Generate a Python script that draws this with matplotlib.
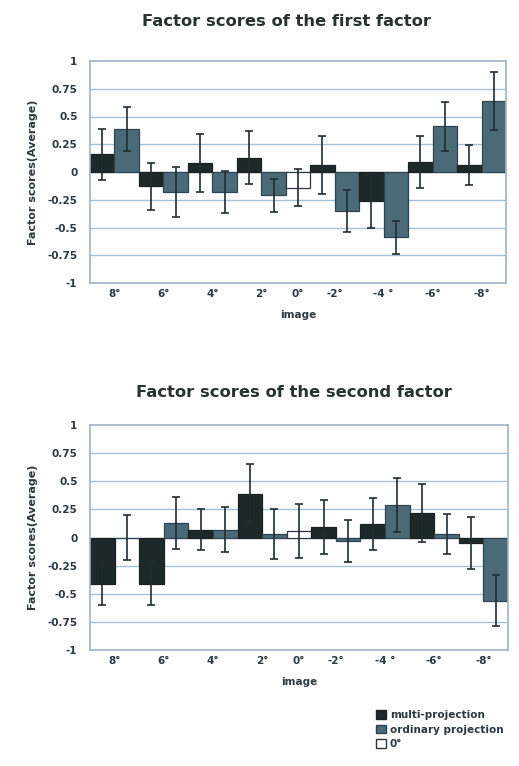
import matplotlib
matplotlib.use("Agg")
import matplotlib.pyplot as plt
from matplotlib.patches import Patch
import numpy as np

plt.rcParams['font.family'] = ['DejaVu Sans']

tick_labels = ["8°", "6°", "4°", "2°", "0°", "-2°", "-4 °", "-6°", "-8°"]
bar_kind = ["multi", "ordinary"] * 4 + ["zero"] + ["multi", "ordinary"] * 4
first_vals = [0.16, 0.39, -0.13, -0.18, 0.08, -0.18, 0.13, -0.21, -0.14,
              0.06, -0.35, -0.26, -0.59, 0.09, 0.41, 0.06, 0.64]
first_err = [0.23, 0.20, 0.21, 0.225, 0.26, 0.19, 0.24, 0.15, 0.17,
             0.26, 0.19, 0.24, 0.145, 0.23, 0.22, 0.18, 0.26]
second_vals = [-0.41, 0.0, -0.41, 0.13, 0.07, 0.07, 0.39, 0.03, 0.06,
               0.09, -0.03, 0.12, 0.29, 0.22, 0.03, -0.05, -0.56]
second_err = [0.19, 0.20, 0.19, 0.23, 0.18, 0.20, 0.26, 0.22, 0.24,
              0.24, 0.19, 0.23, 0.24, 0.26, 0.18, 0.23, 0.23]
y_ticks = [1, 0.75, 0.5, 0.25, 0, -0.25, -0.5, -0.75, -1]
y_tick_labels = ["1", "0.75", "0.5", "0.25", "0", "-0.25", "-0.5", "-0.75", "-1"]
legend_labels = ["multi-projection", "ordinary projection", "0°"]

TXT = "#2a3840"
colors = {"multi": "#1e2828", "ordinary": "#4b6a78", "zero": "#ffffff"}
edges = {"multi": "#1a2222", "ordinary": "#2e4450", "zero": "#2a3840"}
GRID = "#a4c2d6"
FRAME = "#9fb4c2"

fig = plt.figure(figsize=(5.19, 7.66), dpi=100)

x = np.arange(len(bar_kind))
# tick positions: between the two bars of each pair, centre for 0°
tick_pos = []
i = 0
while i < len(bar_kind):
    if bar_kind[i] == "zero":
        tick_pos.append(x[i]); i += 1
    else:
        tick_pos.append((x[i] + x[i + 1]) / 2); i += 2


def draw(ax, vals, errs, title, title_x, title_y):
    ax.set_xlim(-0.5, len(x) - 0.5)
    ax.set_ylim(-1, 1)
    ax.set_axisbelow(True)
    for yt in y_ticks:
        if yt not in (1, -1):
            ax.axhline(yt, color=GRID, lw=1.0, zorder=0)
    ax.bar(x, vals, width=1.0, color=[colors[k] for k in bar_kind],
           edgecolor=[edges[k] for k in bar_kind], linewidth=0.9, zorder=2)
    ax.errorbar(x, vals, yerr=errs, fmt='none', ecolor="#1f2d33",
                elinewidth=1.2, capsize=3.2, capthick=1.2, zorder=3)
    ax.set_yticks(y_ticks)
    ax.set_yticklabels(y_tick_labels, fontsize=7.5, fontweight='bold', color=TXT)
    ax.set_xticks(tick_pos)
    ax.set_xticklabels(tick_labels, fontsize=7.5, fontweight='bold', color=TXT)
    ax.tick_params(axis='y', length=0, pad=9)
    ax.tick_params(axis='x', length=0, pad=4)
    for s in ax.spines.values():
        s.set_color(FRAME)
        s.set_linewidth(1.2)
    ax.set_xlabel("image", fontsize=7.5, fontweight='bold', color=TXT, labelpad=8)
    ax.set_ylabel("Factor scores(Average)", fontsize=8, fontweight='bold',
                  color=TXT, labelpad=7)
    fig.text(title_x, title_y, title, ha='center', va='center', fontsize=11.8,
             fontweight='bold', color="#26332f")


ax1 = fig.add_axes([90 / 519, 1 - 283 / 766, 416 / 519, 222 / 766])
draw(ax1, first_vals, first_err, "Factor scores of the first factor",
     287 / 519, 1 - 21 / 766)
ax2 = fig.add_axes([90 / 519, 1 - 650 / 766, 418 / 519, 225 / 766])
draw(ax2, second_vals, second_err, "Factor scores of the second factor",
     294 / 519, 1 - 393 / 766)

handles = [Patch(facecolor=colors[k], edgecolor=edges[k]) for k in ["multi", "ordinary", "zero"]]
leg = fig.legend(handles, legend_labels, loc='upper left',
                 bbox_to_anchor=(371 / 519, 1 - 705 / 766), frameon=False,
                 prop={'size': 7.5, 'weight': 'bold'}, handlelength=0.9,
                 handleheight=0.9, handletextpad=0.4, labelspacing=0.42,
                 borderpad=0)
for t in leg.get_texts():
    t.set_color(TXT)

fig.savefig("out.png", dpi=100, facecolor="white")
